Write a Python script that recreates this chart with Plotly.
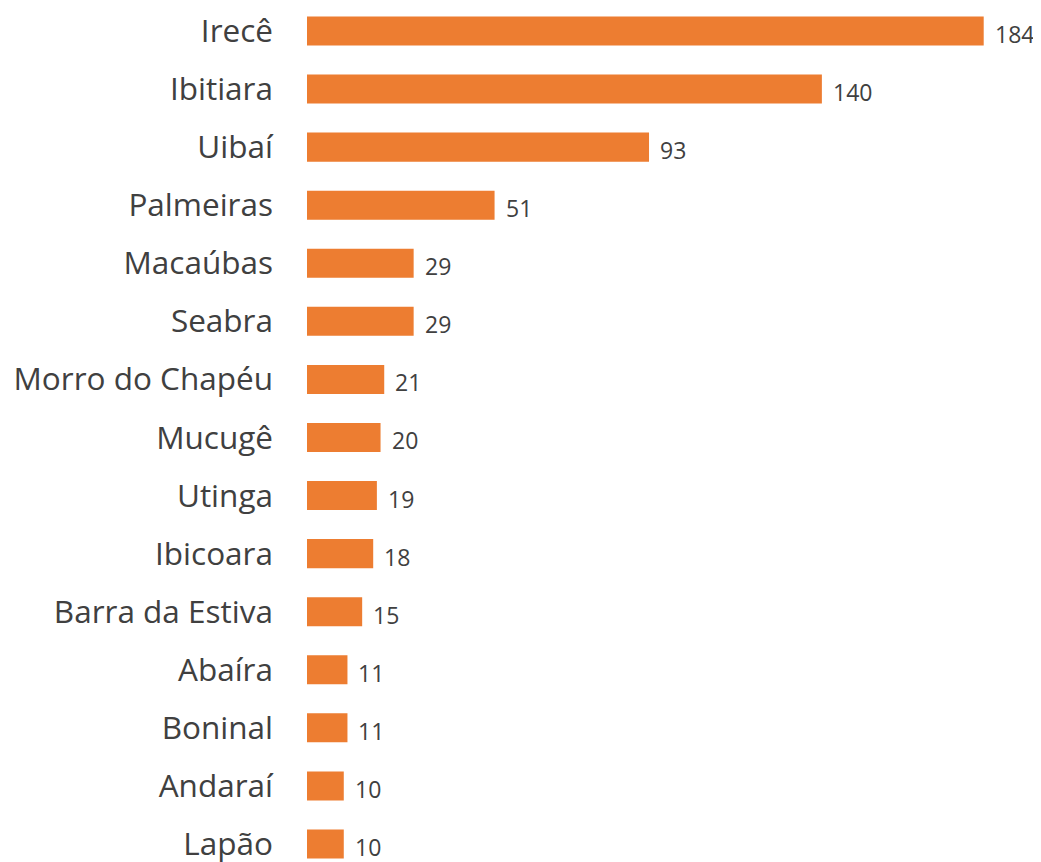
import plotly.graph_objects as go

categories = ["Irecê", "Ibitiara", "Uibaí", "Palmeiras", "Macaúbas", "Seabra",
              "Morro do Chapéu", "Mucugê", "Utinga", "Ibicoara", "Barra da Estiva",
              "Abaíra", "Boninal", "Andaraí", "Lapão"]
values = [184, 140, 93, 51, 29, 29, 21, 20, 19, 18, 15, 11, 11, 10, 10]

BAR_COLOR = "#ED7D31"
TEXT_COLOR = "#404040"
FONT = "Open Sans"

fig = go.Figure()
fig.add_trace(go.Bar(
    x=values,
    y=categories,
    orientation="h",
    marker=dict(color=BAR_COLOR, line=dict(width=0)),
    width=0.5,
    hoverinfo="x+y",
))

for c, v in zip(categories, values):
    fig.add_annotation(
        x=v, y=c, text=str(v), showarrow=False,
        xanchor="left", yanchor="middle", xshift=9, yshift=-3,
        font=dict(family=FONT, size=23, color=TEXT_COLOR),
    )

fig.update_layout(
    width=1041, height=862,
    margin=dict(l=299, r=23, t=0, b=0),
    paper_bgcolor="white", plot_bgcolor="white",
    showlegend=False,
    font=dict(family=FONT, color=TEXT_COLOR),
    xaxis=dict(range=[0, 195.5], visible=False, showgrid=False, zeroline=False),
    yaxis=dict(
        type="category",
        categoryorder="array", categoryarray=categories,
        range=[14.448, -0.396],
        showgrid=False, zeroline=False, showline=False,
        ticks="", ticklabelstandoff=33,
        tickfont=dict(family=FONT, size=31.5, color=TEXT_COLOR),
    ),
)

fig.write_html("out.html")
